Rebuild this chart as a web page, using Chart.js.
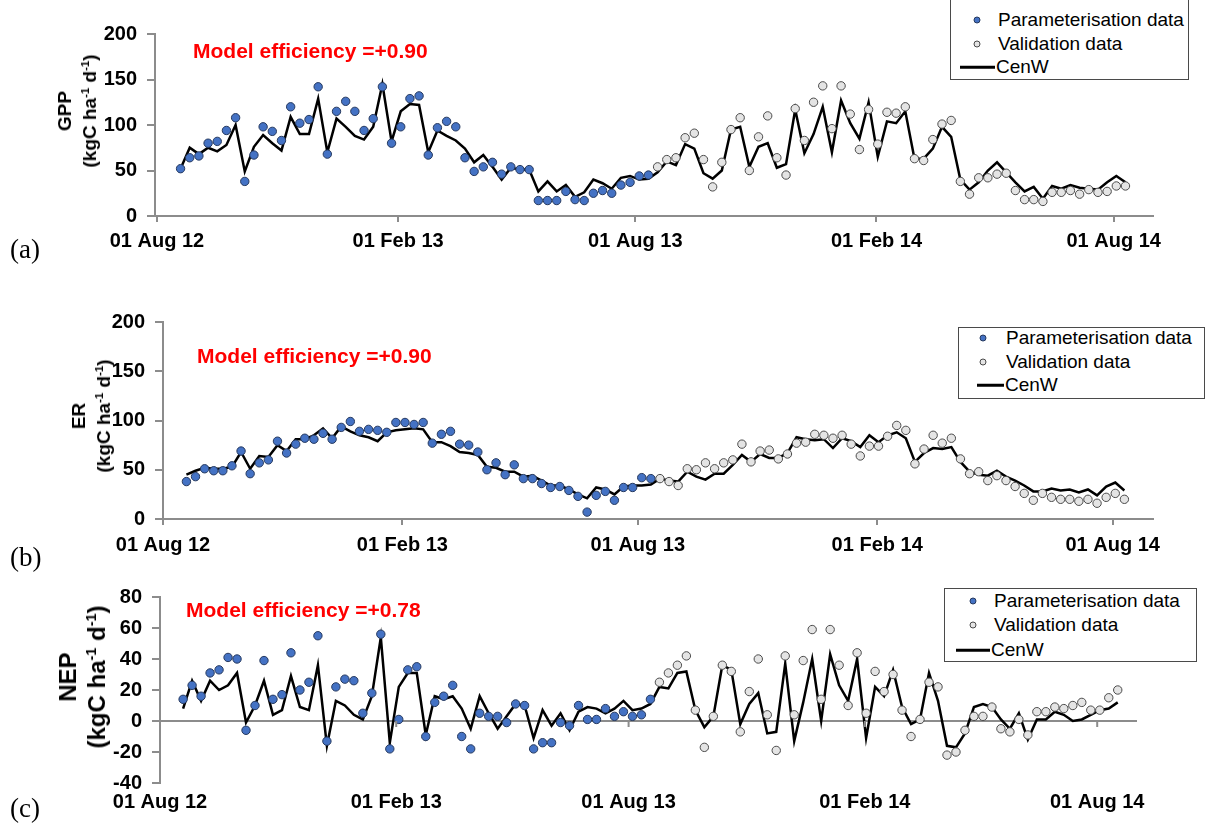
<!DOCTYPE html>
<html>
<head>
<meta charset="utf-8">
<script src="https://cdn.jsdelivr.net/npm/chart.js@4.4.1/dist/chart.umd.min.js"></script>
<style>
  body { margin: 0; background: #fff; }
  #page { position: relative; width: 1206px; height: 825px; overflow: hidden; font-family: "Liberation Sans", Arial, sans-serif; }
  .panel { position: absolute; left: 0; }
  .eff { position: absolute; color: #ff0000; font-weight: bold; font-size: 21px; line-height: 21px; white-space: nowrap; }
  .ytitle { position: absolute; transform: translate(-50%, -50%) rotate(-90deg); font-weight: bold; text-align: center; white-space: nowrap; color: #000; }
  .ytitle sup { font-size: 60%; line-height: 0; vertical-align: 0.6em; }
  .tag { position: absolute; left: 10px; font-family: "Liberation Serif", "Times New Roman", serif; font-size: 27px; line-height: 27px; }
  .legend { position: absolute; border: 1.5px solid #4a4a4a; background: #fff; box-sizing: border-box; }
  .lg-text { position: absolute; font-size: 19px; line-height: 20px; white-space: nowrap; transform: translateY(-50%); }
  .lg-dot { position: absolute; width: 7px; height: 7px; border-radius: 50%; box-sizing: border-box; transform: translate(-50%, -50%); }
  .lg-line { position: absolute; height: 2.5px; background: #000; transform: translateY(-50%); }
</style>
</head>
<body>
<div id="page">
  <div class="panel" style="top:0px"><canvas id="gpp" width="1206" height="270"></canvas></div>
  <div class="panel" style="top:290px"><canvas id="er" width="1206" height="285"></canvas></div>
  <div class="panel" style="top:575px"><canvas id="nep" width="1206" height="250"></canvas></div>

  <div class="ytitle" style="left:77px; top:111px; font-size:19px; line-height:25px"><div>GPP</div><div>(kgC ha<sup>-1</sup> d<sup>-1</sup>)</div></div>
  <div class="ytitle" style="left:91px; top:416px; font-size:19px; line-height:25px"><div>ER</div><div>(kgC ha<sup>-1</sup> d<sup>-1</sup>)</div></div>
  <div class="ytitle" style="left:82px; top:677px; font-size:24px; line-height:29px"><div>NEP</div><div>(kgC ha<sup>-1</sup> d<sup>-1</sup>)</div></div>

  <div class="eff" style="left:193px; top:40px">Model efficiency =+0.90</div>
  <div class="eff" style="left:197px; top:345px">Model efficiency =+0.90</div>
  <div class="eff" style="left:186px; top:599px">Model efficiency =+0.78</div>

  <div class="tag" style="top:236px">(a)</div>
  <div class="tag" style="top:544px">(b)</div>
  <div class="tag" style="top:795px">(c)</div>
</div>

<script>
// weekly sampling days, counted from 01 Aug 2012
const weekDays = Array.from({ length: 105 }, (_, i) => 18 + 7 * i);

const tickDays = [0, 184, 365, 549, 730];
const tickLabels = ['01 Aug 12', '01 Feb 13', '01 Aug 13', '01 Feb 14', '01 Aug 14'];

const seriesNames = ['Parameterisation data', 'Validation data', 'CenW'];

// (a) GPP
const gppParam = [52, 64, 66, 80, 82, 94, 108, 38, 67, 98, 93, 83, 120, 102, 106, 142, 68, 115, 126, 115,
  94, 107, 142, 80, 98, 129, 132, 67, 97, 104, 98, 64, 49, 54, 59, 46, 54, 51, 51, 17,
  17, 17, 27, 18, 17, 25, 28, 25, 34, 37, 44, 45];
const gppValid = [54, 62, 64, 86, 91, 62, 32, 59, 95, 108, 50, 87, 110, 64, 45, 118, 83, 125, 143, 96,
  143, 112, 73, 117, 79, 114, 113, 120, 63, 61, 84, 101, 105, 38, 24, 42, 42, 46, 47, 28,
  18, 18, 16, 26, 26, 28, 24, 29, 26, 27, 33, 33];
const gppModel = [52, 75, 68, 75, 71, 78, 100, 49, 76, 89, 80, 72, 109, 90, 90, 129, 70, 107, 98, 88,
  84, 98, 145, 82, 115, 123, 122, 70, 94, 88, 83, 74, 59, 67, 54, 40, 53, 51, 51, 27,
  38, 27, 34, 21, 26, 40, 36, 30, 42, 44, 40, 41, 48, 60, 56, 79, 74, 47, 41, 50,
  95, 98, 54, 76, 80, 53, 57, 117, 69, 90, 120, 70, 127, 102, 85, 125, 65, 104, 102, 115,
  63, 63, 74, 98, 87, 40, 29, 37, 50, 59, 48, 37, 27, 32, 19, 33, 30, 34, 31, 30,
  29, 37, 44, 37];

// (b) ER
const erParam = [38, 43, 51, 49, 49, 54, 69, 46, 57, 60, 79, 67, 76, 82, 81, 87, 81, 93, 99, 89,
  91, 90, 88, 98, 98, 96, 98, 77, 86, 89, 76, 75, 68, 50, 57, 45, 55, 41, 41, 36,
  32, 33, 29, 23, 7, 24, 28, 19, 32, 32, 42, 41];
const erValid = [41, 38, 34, 51, 50, 57, 51, 57, 60, 76, 58, 69, 70, 61, 66, 77, 78, 86, 85, 82,
  85, 76, 64, 74, 74, 84, 95, 90, 56, 71, 85, 77, 82, 61, 46, 48, 39, 44, 39, 33,
  26, 19, 26, 22, 20, 20, 18, 20, 16, 22, 26, 20];
const erModel = [45, 49, 52, 51, 51, 53, 68, 51, 64, 63, 75, 69, 81, 81, 85, 92, 82, 94, 89, 85,
  83, 79, 88, 90, 91, 92, 91, 78, 78, 74, 68, 67, 65, 53, 52, 48, 48, 43, 44, 39,
  34, 34, 30, 25, 21, 32, 30, 25, 33, 34, 34, 35, 41, 39, 38, 48, 43, 40, 46, 46,
  55, 65, 58, 66, 62, 62, 67, 83, 81, 80, 81, 72, 82, 79, 73, 85, 78, 85, 88, 82,
  58, 67, 72, 71, 73, 58, 48, 45, 44, 49, 43, 39, 34, 28, 28, 31, 29, 30, 27, 30,
  24, 33, 37, 29];

// (c) NEP
const nepParam = [14, 23, 16, 31, 33, 41, 40, -6, 10, 39, 14, 17, 44, 20, 25, 55, -13, 22, 27, 26,
  5, 18, 56, -18, 1, 33, 35, -10, 12, 16, 23, -10, -18, 5, 3, 3, -1, 11, 10, -18,
  -14, -14, -1, -3, 10, 1, 1, 8, 3, 6, 3, 4, 14];
const nepValid = [25, 31, 36, 42, 7, -17, 3, 36, 32, -7, 19, 40, 4, -19, 42, 4, 39, 59, 14, 59,
  36, 10, 44, 5, 32, 19, 30, 7, -10, 1, 25, 22, -22, -20, -6, 3, 3, 9, -5, -7,
  1, -9, 6, 6, 9, 8, 10, 12, 7, 7, 15, 20];
const nepModel = [8, 26, 13, 26, 20, 23, 31, -1, 10, 26, 4, 7, 29, 9, 7, 36, -16, 13, 10, 4,
  1, 16, 54, -14, 22, 31, 31, -9, 16, 14, 16, 8, -5, 16, 5, -5, 3, 11, 10, -11,
  7, -3, 5, -6, 6, 9, 8, 5, 8, 13, 7, 8, 11, 22, 21, 31, 32, 7, -4, 3,
  36, 33, -2, 11, 18, -8, -7, 37, -13, 12, 40, 0, 43, 23, 13, 40, -11, 22, 16, 33,
  9, -2, 1, 31, 13, -16, -17, -8, 9, 11, 9, 1, -5, 5, -12, 1, 1, 6, 4, 0,
  1, 4, 7, 8, 12];

const blueFill = '#4472C4', blueEdge = '#26395e';
const greyFill = '#e4e4e4', greyEdge = '#4a4a4a';
const axisGrey = '#8c8c8c';
const tickFont = { family: '"Liberation Sans", Arial, sans-serif', weight: 'bold', size: 20 };

const toPoints = (vals, offset) => vals.map((v, i) => ({ x: weekDays[offset + i], y: v }));

// small date ticks on the zero line of the NEP panel
const zeroTicks = {
  id: 'zeroTicks',
  afterDatasetsDraw(chart, args, opts) {
    if (!opts.on) return;
    const { ctx, scales: { x, y } } = chart;
    const y0 = y.getPixelForValue(0);
    ctx.save();
    ctx.strokeStyle = axisGrey;
    ctx.lineWidth = 2;
    tickDays.forEach(d => {
      const px = x.getPixelForValue(d);
      if (px <= chart.chartArea.left + 2) return;
      ctx.beginPath();
      ctx.moveTo(px, y0);
      ctx.lineTo(px, y0 + 6);
      ctx.stroke();
    });
    ctx.restore();
  }
};

function makePanel(id, p) {
  const height = document.getElementById(id).height;
  new Chart(document.getElementById(id), {
    type: 'line',
    plugins: [zeroTicks],
    data: {
      datasets: [
        { label: seriesNames[0], data: toPoints(p.param, 0), showLine: false,
          pointRadius: 4.2, pointBackgroundColor: blueFill, pointBorderColor: blueEdge, pointBorderWidth: 1 },
        { label: seriesNames[1], data: toPoints(p.valid, p.param.length), showLine: false,
          pointRadius: 4.2, pointBackgroundColor: greyFill, pointBorderColor: greyEdge, pointBorderWidth: 1 },
        { label: seriesNames[2], data: toPoints(p.model, 0), borderColor: '#000', borderWidth: 2.5,
          pointRadius: 0, tension: 0, fill: false }
      ]
    },
    options: {
      responsive: false,
      animation: false,
      layout: { padding: { top: p.top, right: 1206 - p.right, left: 0, bottom: 0 } },
      plugins: { legend: { display: false }, tooltip: { enabled: false }, zeroTicks: { on: !!p.zeroLine } },
      scales: {
        x: {
          type: 'linear', min: p.xmin, max: p.xmax,
          afterBuildTicks: s => { s.ticks = tickDays.map(v => ({ value: v })); },
          afterFit: s => { s.height = height - p.bottom; },
          ticks: { autoSkip: false, maxRotation: 0, color: '#000', font: tickFont, padding: p.xpad,
            callback: v => tickLabels[tickDays.indexOf(v)] },
          grid: { drawOnChartArea: false, display: !p.zeroLine, drawTicks: !p.zeroLine, tickLength: 6, color: axisGrey, lineWidth: 2 },
          border: { display: !p.zeroLine, color: axisGrey, width: 2 }
        },
        y: {
          min: p.ymin, max: p.ymax,
          afterFit: s => { s.width = p.left; },
          ticks: { stepSize: p.step, color: '#000', font: tickFont, padding: 10 },
          grid: {
            drawOnChartArea: !!p.zeroLine, drawTicks: true, tickLength: 8, lineWidth: 2,
            color: c => (p.zeroLine && c.tick && c.tick.value === 0) ? axisGrey : 'rgba(0,0,0,0)',
            tickColor: axisGrey, tickWidth: 2
          },
          border: { color: axisGrey, width: 2 }
        }
      }
    }
  });
}

makePanel('gpp', { param: gppParam, valid: gppValid, model: gppModel,
  top: 34, bottom: 216, left: 155, right: 1153, xmin: -1.5, xmax: 760, ymin: 0, ymax: 200, step: 50, xpad: 7 });
makePanel('er', { param: erParam, valid: erValid, model: erModel,
  top: 32, bottom: 229, left: 163, right: 1153, xmin: 0, xmax: 761, ymin: 0, ymax: 200, step: 50, xpad: 8 });
makePanel('nep', { param: nepParam, valid: nepValid, model: nepModel,
  top: 15, bottom: 208, left: 160, right: 1137, xmin: 0, xmax: 761, ymin: -40, ymax: 80, step: 20, xpad: 7, zeroLine: true });

// legends (html, one per panel)
function addLegend(box, rows, dotX, textX, lineX1, lineX2) {
  const page = document.getElementById('page');
  const lg = document.createElement('div');
  lg.className = 'legend';
  Object.assign(lg.style, { left: box[0] + 'px', top: box[1] + 'px', width: box[2] + 'px', height: box[3] + 'px' });
  page.appendChild(lg);
  const styles = [[blueFill, blueEdge], [greyFill, greyEdge]];
  seriesNames.forEach((name, i) => {
    if (i < 2) {
      const dot = document.createElement('div');
      dot.className = 'lg-dot';
      Object.assign(dot.style, { left: dotX + 'px', top: rows[i] + 'px', background: styles[i][0], border: '1px solid ' + styles[i][1] });
      page.appendChild(dot);
    } else {
      const line = document.createElement('div');
      line.className = 'lg-line';
      Object.assign(line.style, { left: lineX1 + 'px', top: rows[i] + 'px', width: (lineX2 - lineX1) + 'px' });
      page.appendChild(line);
    }
    const t = document.createElement('div');
    t.className = 'lg-text';
    t.textContent = name;
    Object.assign(t.style, { left: (i < 2 ? textX : lineX2 + 1) + 'px', top: rows[i] + 'px' });
    page.appendChild(t);
  });
}

addLegend([950, -1, 239, 81], [20, 44, 67], 977, 998, 960, 995);
addLegend([958, 327, 247, 72], [338, 362, 385], 983, 1006, 977, 1004);
addLegend([944, 588, 253, 74], [601, 625, 650], 973, 994, 956, 990);
</script>
</body>
</html>
